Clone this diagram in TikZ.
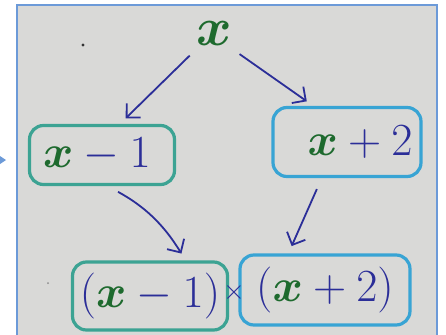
\documentclass[tikz,border=0pt]{standalone}
\usepackage{fix-cm}
\usepackage{amsmath}
\usepackage{tikz}
\usetikzlibrary{arrows.meta, positioning}
\definecolor{paper}{HTML}{D9D9D7}
\definecolor{frameblue}{HTML}{6C9AD8}
\definecolor{inkgreen}{HTML}{1E6A2E}
\definecolor{inkblue}{HTML}{2B2E98}
\definecolor{tealbox}{HTML}{3CA393}
\definecolor{skybox}{HTML}{38A4D4}
\newcommand{\vx}{\textcolor{inkgreen}{\boldsymbol{x}}}
\newcommand{\op}[1]{\mskip4mu{#1}\mskip4mu}

\begin{document}
\begin{tikzpicture}[x=1pt, y=-1pt,
    >={Straight Barb[length=10pt 0 0, width=20pt 0 0]},
    link/.style={->, draw=inkblue, line width=1.8pt,
                 shorten >=8pt, shorten <=12pt},
    factor/.style={draw, rounded corners=14pt, line width=3.2pt,
                   font=\fontsize{46}{46}\selectfont,
                   text=inkblue, inner sep=0pt}]
  \useasboundingbox (0,0) rectangle (446,334);
  % Photo and frame
  \fill[paper] (17,5) rectangle (437,336);
  \draw[frameblue, line width=2pt] (17,5) rectangle (437,336);
  \fill[frameblue] (0,156) -- (6,160) -- (0,164) -- cycle;
  \fill[black!80] (83,45) circle (1.6);
  \fill[black!45] (48,283) circle (1);

  % Expression and its factors
  \node[font=\fontsize{54}{54}\selectfont, inner sep=1pt] (x0) at (214,34) {$\vx$};
  \node[factor, draw=tealbox, minimum width=145pt, minimum height=59pt]
    (xm1) at (102,155) {\raisebox{-4pt}{$\vx\op{-}1$}\hspace*{10pt}};
  \node[factor, draw=skybox, minimum width=148pt, minimum height=69pt]
    (xp2) at (347,142) {\hspace*{26pt}\raisebox{-10pt}{$\vx\op{+}2$}};
  \node[factor, draw=tealbox, minimum width=155pt, minimum height=68pt]
    (prodl) at (150,296) {$(\vx\op{-}1)$};
  \node[factor, draw=skybox, minimum width=170pt, minimum height=70pt]
    (prodr) at (325,290) {$(\vx\op{+}2)$};
  \node[font=\fontsize{28}{28}\selectfont, text=inkblue]
    (times) at (234,292) {$\times$};

  % Arrows
  \draw[link] (x0.-140) -- (xm1.60);
  \draw[link] (x0.-40) -- (xp2.133);
  \draw[link] (xm1.-80) to[bend left=15] (prodl.45);
  \draw[link] (xp2.-125) -- (prodr.135);
\end{tikzpicture}
\end{document}
